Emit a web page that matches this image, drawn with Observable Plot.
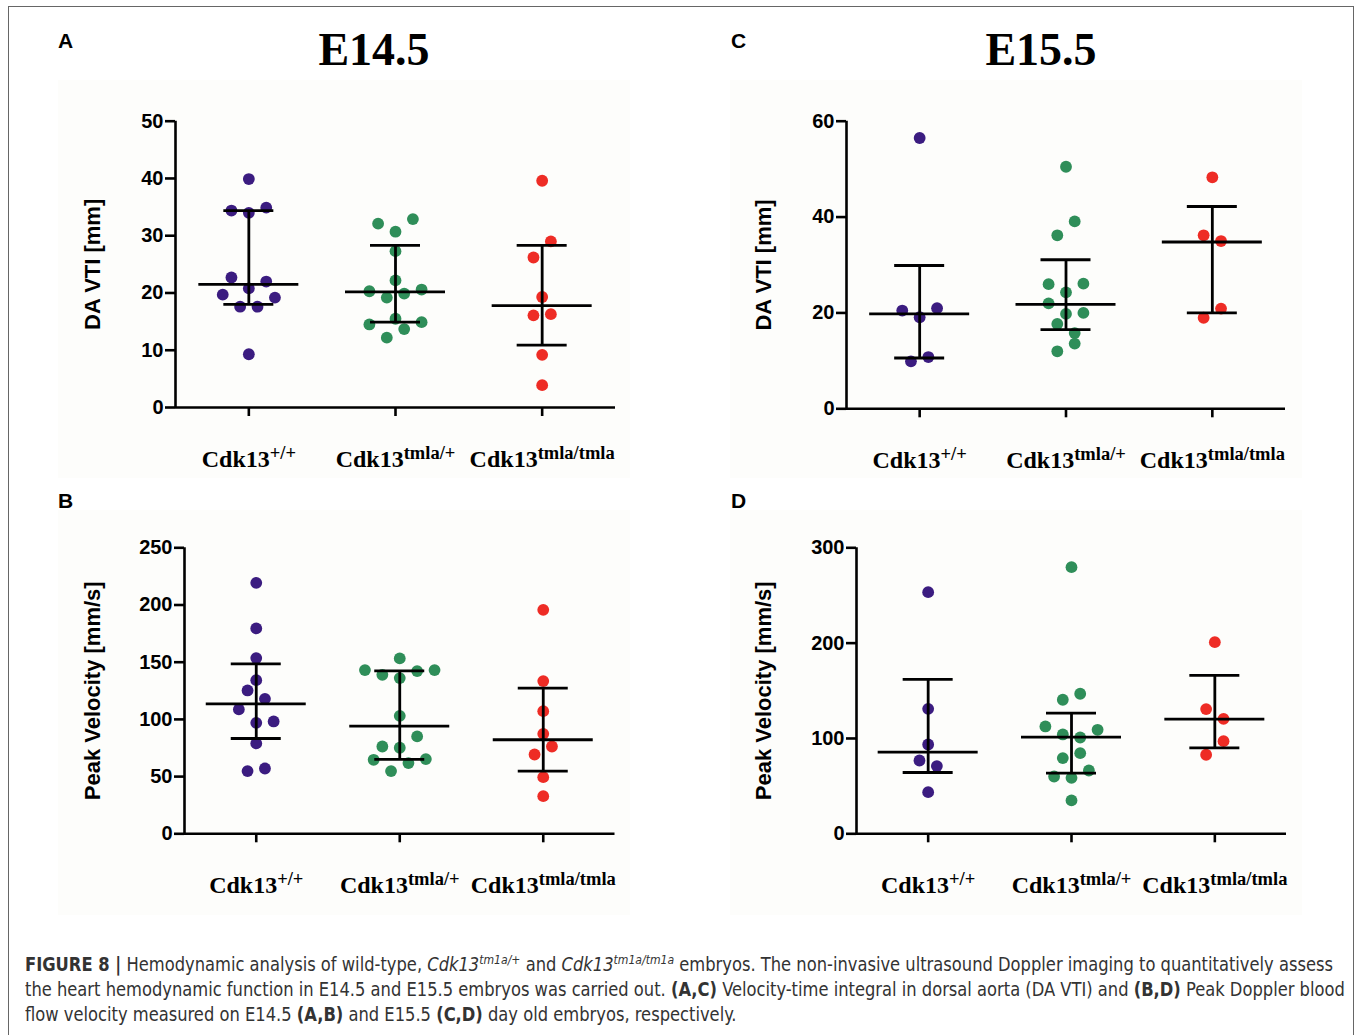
<!DOCTYPE html>
<html><head><meta charset="utf-8">
<script src="https://cdn.jsdelivr.net/npm/d3@7"></script>
<script src="https://cdn.jsdelivr.net/npm/@observablehq/plot@0.6"></script>
<style>
body{margin:0;background:#fff;width:1357px;height:1035px;position:relative;overflow:hidden;font-family:"Liberation Sans",Arial,sans-serif;}
.frame{position:absolute;left:8px;top:6px;width:1346px;height:1060px;border:1.5px solid #666;box-sizing:border-box;}
.bg{position:absolute;background:#fdfdfb;}
.letter{position:absolute;font:bold 21px/21px "Liberation Sans",Arial,sans-serif;color:#000;}
.title{position:absolute;font:bold 46px/46px "Liberation Serif","Times New Roman",serif;transform:translateX(-50%);color:#000;white-space:nowrap;}
.panel{position:absolute;}
.caption{position:absolute;left:25px;top:952px;font-family:"Liberation Sans Narrow","Arial Narrow","DejaVu Sans Condensed","Liberation Sans",sans-serif;font-size:19.5px;color:#333;line-height:25px;white-space:nowrap;}
.caption div{transform-origin:0 50%;}
.caption sup{font-size:13px;line-height:0;}
</style></head><body>
<div class="frame"></div>
<div class="bg" style="left:58px;top:80px;width:572px;height:398px"></div>
<div class="bg" style="left:58px;top:510px;width:572px;height:405px"></div>
<div class="bg" style="left:730px;top:80px;width:572px;height:398px"></div>
<div class="bg" style="left:730px;top:510px;width:572px;height:405px"></div>
<div class="letter" style="left:58px;top:30px">A</div>
<div class="letter" style="left:58px;top:490px">B</div>
<div class="letter" style="left:731px;top:30px">C</div>
<div class="letter" style="left:731px;top:490px">D</div>
<div class="title" style="left:374px;top:27px">E14.5</div>
<div class="title" style="left:1041px;top:27px">E15.5</div>
<div id="charts"></div>
<div class="caption" id="cap">
<div><b>FIGURE 8 |</b> Hemodynamic analysis of wild-type, <i>Cdk13<sup>tm1a/+</sup></i> and <i>Cdk13<sup>tm1a/tm1a</sup></i> embryos. The non-invasive ultrasound Doppler imaging to quantitatively assess</div>
<div>the heart hemodynamic function in E14.5 and E15.5 embryos was carried out. <b>(A,C)</b> Velocity-time integral in dorsal aorta (DA VTI) and <b>(B,D)</b> Peak Doppler blood</div>
<div>flow velocity measured on E14.5 <b>(A,B)</b> and E15.5 <b>(C,D)</b> day old embryos, respectively.</div>
</div>
<script>
// ---- categories ----
const genotypes = ["+/+", "tmla/+", "tmla/tmla"];
const colors = ["#3b1c80", "#2f8e59", "#ee2c25"];

// ---- Panel A: E14.5 DA VTI [mm] ----
const A_vals = [
  [39.9, 34.4, 34.0, 34.9, 22.7, 22.0, 20.8, 19.7, 19.2, 17.6, 17.6, 9.3],
  [32.1, 32.9, 30.7, 27.3, 22.2, 20.3, 20.6, 19.9, 19.2, 15.5, 14.5, 14.9, 13.7, 12.2],
  [39.6, 29.0, 26.2, 19.3, 16.1, 16.3, 9.2, 3.9]
];
const A_slots = [
  [0, -2, 0, 2, -2, 2, 0, -3, 3, -1, 1, 0],
  [-2, 2, 0, 0, 0, -3, 3, 1, -1, 0, -3, 3, 1, -1],
  [0, 1, -1, 0, -1, 1, 0, 0]
];
const A_median = [21.5, 20.2, 17.8];
const A_lower = [18.0, 14.9, 10.9];
const A_upper = [34.4, 28.3, 28.3];
const A_ticks = [0, 10, 20, 30, 40, 50];

// ---- Panel B: E14.5 Peak Velocity [mm/s] ----
const B_vals = [
  [219.4, 179.5, 153.6, 134.3, 125.3, 118.0, 108.7, 97.0, 98.2, 79.0, 54.8, 57.1],
  [153.3, 143.1, 143.1, 139.0, 142.2, 136.1, 103.1, 85.1, 76.3, 75.2, 64.7, 65.3, 61.8, 54.8],
  [195.8, 133.5, 107.2, 87.4, 76.3, 69.3, 49.5, 32.9]
];
const B_slots = [
  [0, 0, 0, 0, -1, 1, -2, 0, 2, 0, -1, 1],
  [0, -4, 4, -2, 2, 0, 0, 2, -2, 0, -3, 3, 1, -1],
  [0, 0, 0, 0, 1, -1, 0, 0]
];
const B_median = [113.6, 94.1, 82.2];
const B_lower = [83.3, 65.0, 54.8];
const B_upper = [148.6, 142.5, 127.3];
const B_ticks = [0, 50, 100, 150, 200, 250];

// ---- Panel C: E15.5 DA VTI [mm] ----
const C_vals = [
  [56.5, 20.5, 21.0, 19.1, 9.9, 10.8],
  [50.5, 39.1, 36.2, 26.0, 26.1, 24.3, 22.0, 20.0, 19.8, 17.7, 15.8, 13.6, 12.0],
  [48.3, 36.2, 35.0, 20.9, 19.0]
];
const C_slots = [
  [0, -2, 2, 0, -1, 1],
  [0, 1, -1, -2, 2, 0, -2, 2, 0, -1, 1, 1, -1],
  [0, -1, 1, 1, -1]
];
const C_median = [19.8, 21.8, 34.8];
const C_lower = [10.6, 16.5, 20.0];
const C_upper = [29.9, 31.1, 42.2];
const C_ticks = [0, 20, 40, 60];

// ---- Panel D: E15.5 Peak Velocity [mm/s] ----
const D_vals = [
  [253.5, 131.1, 93.7, 76.9, 71.0, 43.7],
  [279.7, 146.9, 140.6, 112.6, 109.1, 104.2, 101.0, 84.6, 79.4, 66.4, 60.1, 58.7, 35.0],
  [201.0, 130.8, 120.6, 97.2, 82.9]
];
const D_slots = [
  [0, 0, 0, -1, 1, 0],
  [0, 1, -1, -3, 3, -1, 1, 1, -1, 2, -2, 0, 0],
  [0, -1, 1, 1, -1]
];
const D_median = [85.7, 101.4, 120.3];
const D_lower = [64.3, 63.6, 90.2];
const D_upper = [161.9, 126.6, 166.1];
const D_ticks = [0, 100, 200, 300];

const SVGNS = "http://www.w3.org/2000/svg";
const STEP_PX = 8.7, R = 5.9, LW = 2.8;

function panel(cfg) {
  const {bx, by, W, H, x0, x1, yTop, yBot, ymax, ticks, vals, slots, med, lo, hi, ylabel, labelX} = cfg;
  const gpx = (x1 - x0) / 3;
  const u = px => px / gpx;
  const summ = genotypes.map((name, g) => ({g, med: med[g], lo: lo[g], hi: hi[g]}));
  const dotMarks = vals.map((arr, g) =>
    Plot.dot(arr.map((v, j) => ({g, v, s: slots[g][j]})), {
      x: d => d.g + u(d.s * STEP_PX), y: "v", r: R, fill: colors[g], stroke: "none"
    }));
  const svg = Plot.plot({
    width: W, height: H,
    marginLeft: x0 - bx, marginRight: bx + W - x1,
    marginTop: yTop - by, marginBottom: by + H - yBot,
    x: {domain: [-0.5, 2.5]},
    y: {domain: [0, ymax]},
    style: {background: "transparent", overflow: "visible", color: "#000"},
    marks: [
      ...dotMarks,
      Plot.ruleX(summ, {x: "g", y1: "lo", y2: "hi", stroke: "#000", strokeWidth: LW}),
      Plot.ruleY(summ, {y: "hi", x1: d => d.g - u(25), x2: d => d.g + u(25), stroke: "#000", strokeWidth: LW}),
      Plot.ruleY(summ, {y: "lo", x1: d => d.g - u(25), x2: d => d.g + u(25), stroke: "#000", strokeWidth: LW}),
      Plot.ruleY(summ, {y: "med", x1: d => d.g - u(50), x2: d => d.g + u(50), stroke: "#000", strokeWidth: LW}),
      Plot.ruleX([-0.5], {y1: 0, y2: ymax, stroke: "#000", strokeWidth: 2.6}),
      Plot.ruleY([0], {stroke: "#000", strokeWidth: 2.6}),
      Plot.axisY(ticks, {tickSize: 10, tickPadding: 2, strokeWidth: 2.6, fontSize: 20, fontWeight: "bold",
        fontFamily: "Liberation Sans, Arial, sans-serif", label: null}),
      Plot.axisX([0, 1, 2], {tickSize: 9, tickPadding: 33, strokeWidth: 2.6, fontSize: 24, fontWeight: "bold",
        fontFamily: "Liberation Serif, Times New Roman, serif", tickFormat: i => genotypes[i], label: null}),
      Plot.text([ylabel], {text: d => d, frameAnchor: "left", textAnchor: "middle", lineAnchor: "middle",
        dx: labelX - x0, rotate: -90,
        fontSize: 22, fontWeight: "bold", fontFamily: "Liberation Sans, Arial, sans-serif", fill: "#000"})
    ]
  });
  svg.querySelectorAll('g[aria-label="x-axis tick label"] text').forEach(t => {
    const sup = t.textContent;
    t.textContent = "";
    const a = document.createElementNS(SVGNS, "tspan");
    a.textContent = "Cdk13";
    const b = document.createElementNS(SVGNS, "tspan");
    b.textContent = sup;
    b.setAttribute("font-size", "18.5");
    b.setAttribute("dy", "-8");
    t.append(a, b);
  });
  const div = document.createElement("div");
  div.className = "panel";
  div.style.left = bx + "px"; div.style.top = by + "px"; div.style.width = W + "px"; div.style.height = H + "px";
  div.appendChild(svg);
  document.getElementById("charts").appendChild(div);
}

panel({bx: 60, by: 80, W: 580, H: 400, x0: 175, x1: 615, yTop: 120.7, yBot: 407, ymax: 50, ticks: A_ticks,
  vals: A_vals, slots: A_slots, med: A_median, lo: A_lower, hi: A_upper, ylabel: "DA VTI [mm]", labelX: 92});
panel({bx: 60, by: 505, W: 580, H: 400, x0: 184, x1: 614.5, yTop: 547.3, yBot: 833.3, ymax: 250, ticks: B_ticks,
  vals: B_vals, slots: B_slots, med: B_median, lo: B_lower, hi: B_upper, ylabel: "Peak Velocity [mm/s]", labelX: 92});
panel({bx: 730, by: 80, W: 590, H: 400, x0: 846, x1: 1285, yTop: 120.7, yBot: 408.3, ymax: 60, ticks: C_ticks,
  vals: C_vals, slots: C_slots, med: C_median, lo: C_lower, hi: C_upper, ylabel: "DA VTI [mm]", labelX: 763});
panel({bx: 730, by: 505, W: 590, H: 400, x0: 856, x1: 1286, yTop: 547.3, yBot: 833.3, ymax: 300, ticks: D_ticks,
  vals: D_vals, slots: D_slots, med: D_median, lo: D_lower, hi: D_upper, ylabel: "Peak Velocity [mm/s]", labelX: 763});

// fit caption line 1 to the reference width
(function () {
  const lines = document.querySelectorAll("#cap div");
  const range = document.createRange();
  range.selectNodeContents(lines[0]);
  const w = range.getBoundingClientRect().width;
  const k = 1308 / w;
  lines.forEach(l => { l.style.transform = "scaleX(" + k + ")"; });
})();
</script>
</body></html>
